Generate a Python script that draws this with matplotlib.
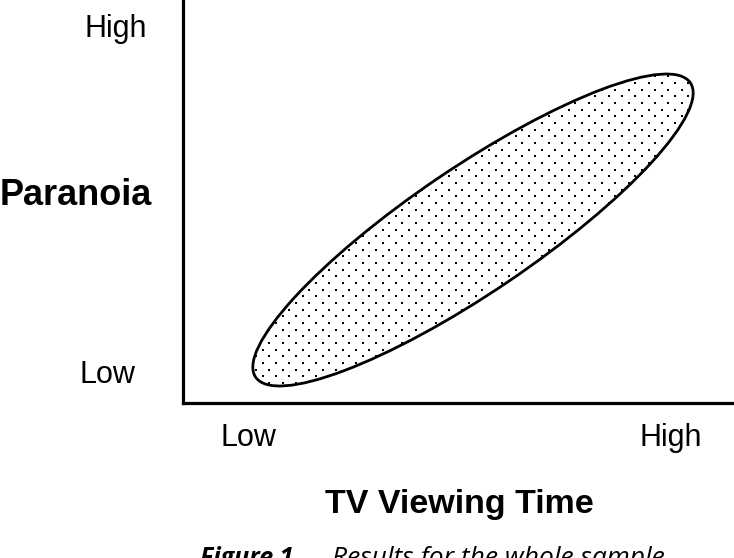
import matplotlib
matplotlib.use('Agg')
import matplotlib.pyplot as plt
import numpy as np
from matplotlib.patches import Ellipse

plt.rcParams['font.family'] = ['Liberation Sans', 'DejaVu Sans']

# axis frame in pixel-like data units (x: 0..551, y: 0..403)
XMAX, YMAX = 551, 403
# ellipse of results: centre, full width, full height, tilt (deg)
ell_center = (290, 173)
ell_width, ell_height, ell_angle = 525, 125, 34.1

x_labels = ['Low', 'High']
x_label_pos = [65, 488]
y_labels = ['High', 'Low']
y_label_pos = [366, 20]
y_label_x = [-67, -76]

xlabel = 'TV Viewing Time'
ylabel = 'Paranoia'
cap_bold = 'Figure 1.'
cap_rest = 'Results for the whole sample'

fig = plt.figure(figsize=(7.34, 5.58), dpi=100)
ax = fig.add_axes([183/734, 155/558, 1 - 183/734, 403/558])
ax.set_xlim(0, XMAX); ax.set_ylim(0, YMAX)
for s in ['top', 'right']: ax.spines[s].set_visible(False)
for s in ['left', 'bottom']: ax.spines[s].set_linewidth(2.3)
ax.set_xticks([]); ax.set_yticks([])

ell_fill = Ellipse(ell_center, ell_width, ell_height, angle=ell_angle,
                   facecolor='white', edgecolor='none', zorder=1)
ax.add_patch(ell_fill)
ax.add_patch(Ellipse(ell_center, ell_width, ell_height, angle=ell_angle,
                     facecolor='none', edgecolor='black', lw=2.0, zorder=3))

# stippled fill: staggered dot texture clipped to the ellipse
dx, dy = 13.3, 6.67
rows = np.arange(0, YMAX + dy, dy)
gx, gy = [], []
for i, yy in enumerate(rows):
    xs = np.arange((i % 2) * dx / 2, XMAX + dx, dx)
    gx.extend(xs); gy.extend([yy] * len(xs))
dots = ax.scatter(gx, gy, s=4.6, marker='s', color='black', lw=0, zorder=2)
dots.set_clip_path(ell_fill)

for t, x in zip(x_labels, x_label_pos):
    ax.text(x, -43, t, ha='center', va='baseline', fontsize=22, clip_on=False)
for t, y, x in zip(y_labels, y_label_pos, y_label_x):
    ax.text(x, y, t, ha='center', va='baseline', fontsize=22, clip_on=False)

ax.text(-183, 198, ylabel, ha='left', va='baseline', fontsize=26, fontweight='bold', clip_on=False)
ax.text(276, -110, xlabel, ha='center', va='baseline', fontsize=24.5, fontweight='bold', clip_on=False)

ax.text(17, -162, cap_bold, ha='left', va='baseline', fontsize=18, fontweight='bold',
        style='italic', family='Open Sans', clip_on=False)
ax.text(149, -162, cap_rest, ha='left', va='baseline', fontsize=19,
        style='italic', family='Open Sans', clip_on=False)

fig.savefig('out.png', dpi=100)
